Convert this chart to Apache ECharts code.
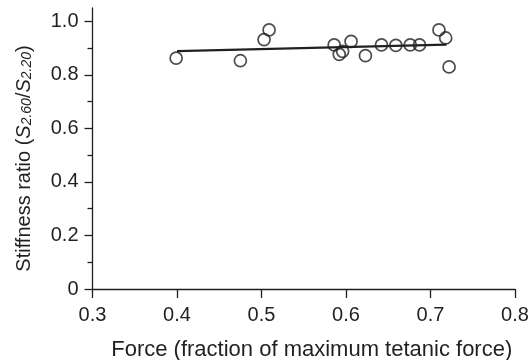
<!DOCTYPE html>
<html>
<head>
<meta charset="utf-8">
<script src="https://cdn.jsdelivr.net/npm/echarts@6/dist/echarts.min.js"></script>
<style>
  html, body { margin: 0; padding: 0; background: #fff; }
  #chart { width: 532px; height: 360px; }
</style>
</head>
<body>
<div id="chart"></div>
<script>
// Points (force fraction, stiffness ratio)
const forceVals = [0.399, 0.475, 0.503, 0.509, 0.586, 0.592, 0.596, 0.606, 0.623, 0.642, 0.659, 0.676, 0.687, 0.710, 0.718, 0.722];
const ratioVals = [0.863, 0.853, 0.932, 0.968, 0.912, 0.877, 0.888, 0.925, 0.872, 0.912, 0.910, 0.912, 0.912, 0.968, 0.938, 0.830];
// regression line endpoints
const fitX = [0.40, 0.719];
const fitY = [0.889, 0.913];
const xTicks = [0.3, 0.4, 0.5, 0.6, 0.7, 0.8];
const yTicks = [0, 0.2, 0.4, 0.6, 0.8, 1.0];
const yMinorTicks = [0.1, 0.3, 0.5, 0.7, 0.9];

const ink = "#231f20";
const font = "Liberation Sans";

const chart = echarts.init(document.getElementById("chart"), null, { renderer: "canvas" });

chart.setOption({
  animation: false,
  backgroundColor: "#fff",
  // keep the plot box fixed; v6 would otherwise shrink it to fit labels
  grid: { left: 92.5, right: 17, top: 8, bottom: 71, outerBoundsMode: "none" },
  xAxis: {
    type: "value",
    min: 0.3, max: 0.8, interval: 0.1,
    name: "Force (fraction of maximum tetanic force)",
    nameLocation: "middle", nameGap: 50,
    nameTextStyle: { color: ink, fontSize: 22, fontFamily: font, padding: [0, 0, 0, 16] },
    axisLine: { lineStyle: { color: ink, width: 1.3 } },
    axisTick: { show: true, length: 9, lineStyle: { color: ink, width: 1.3 }, customValues: xTicks },
    axisLabel: { color: ink, fontSize: 20, fontFamily: font, margin: 16, customValues: xTicks,
      formatter: v => v.toFixed(1) },
    splitLine: { show: false }
  },
  yAxis: [{
    type: "value",
    min: 0, max: 1.05,
    name: "{n|Stiffness ratio (}{i|S}{s|2.60}{n|/}{i|S}{s|2.20}{n|)}{e| }",
    nameLocation: "middle", nameGap: 58, nameRotate: 90,
    nameTextStyle: {
      color: ink, fontFamily: font,
      rich: {
        n: { fontSize: 20, fontFamily: font, color: ink },
        i: { fontSize: 20, fontFamily: font, color: ink, fontStyle: "italic" },
        s: { fontSize: 14, fontFamily: font, color: ink, fontStyle: "italic", padding: [7, 0, 0, 0] },
        e: { fontSize: 20, width: 20 }
      }
    },
    axisLine: { show: true, lineStyle: { color: ink, width: 1.3 } },
    axisTick: { show: true, length: 8, lineStyle: { color: ink, width: 1.3 }, customValues: yTicks },
    axisLabel: { color: ink, fontSize: 20, fontFamily: font, margin: 14, customValues: yTicks,
      formatter: v => (v === 0 ? "0" : v.toFixed(1)) },
    splitLine: { show: false }
  }, {
    type: "value",
    position: "left",
    min: 0, max: 1.05,
    axisLine: { show: false },
    axisTick: { show: true, length: 5, lineStyle: { color: ink, width: 1.3 }, customValues: yMinorTicks },
    axisLabel: { show: false },
    splitLine: { show: false }
  }],
  series: [
    {
      type: "line",
      data: fitX.map((x, i) => [x, fitY[i]]),
      showSymbol: false,
      lineStyle: { color: ink, width: 2.4 },
      z: 2
    },
    {
      type: "scatter",
      data: forceVals.map((x, i) => [x, ratioVals[i]]),
      symbol: "circle",
      symbolSize: 12,
      itemStyle: { color: "rgba(255,255,255,0)", borderColor: ink, borderWidth: 1.7 },
      z: 3
    }
  ]
});
</script>
</body>
</html>
